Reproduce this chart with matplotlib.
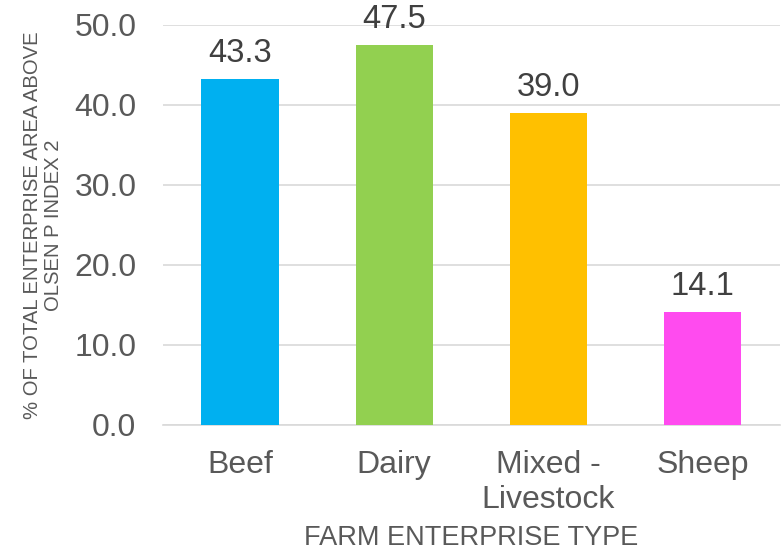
import matplotlib.pyplot as plt
from matplotlib.ticker import FormatStrFormatter

# data
categories = ['Beef', 'Dairy', 'Mixed -\nLivestock', 'Sheep']
values = [43.3, 47.5, 39.0, 14.1]
colors = ['#00B0F0', '#92D050', '#FFC000', '#FF4BEF']

plt.rcParams['font.family'] = ['Liberation Sans', 'DejaVu Sans']

fig = plt.figure(figsize=(7.83, 5.53), dpi=100)
ax = fig.add_axes([0.208, 0.2315, 0.788, 0.7233])

bars = ax.bar(range(len(values)), values, width=0.5, color=colors, zorder=3)
for b, v in zip(bars, values):
    ax.annotate(f'{v:.1f}', (b.get_x() + b.get_width() / 2, v),
                xytext=(0, 7), textcoords='offset points',
                ha='center', va='bottom', fontsize=23.5, color='#404040',
                annotation_clip=False)

ax.set_xlim(-0.5, 3.5)
ax.set_ylim(0, 50)
ax.set_yticks([0, 10, 20, 30, 40, 50])
ax.yaxis.set_major_formatter(FormatStrFormatter('%.1f'))
ax.set_xticks(range(len(categories)))
ax.set_xticklabels(categories, linespacing=1.2)

ax.grid(axis='y', color='#d9d9d9', linewidth=1.2, zorder=0)
for s in ['top', 'right', 'left']:
    ax.spines[s].set_visible(False)
ax.spines['bottom'].set_color('#d9d9d9')
ax.spines['bottom'].set_linewidth(1.2)
ax.tick_params(axis='both', length=0, labelsize=23, colors='#595959')
ax.tick_params(axis='y', pad=19)
ax.tick_params(axis='x', pad=18)

ax.set_xlabel('FARM ENTERPRISE TYPE', fontsize=19.5, color='#595959', va='center')
ax.xaxis.set_label_coords(0.5, -0.283)
ax.set_ylabel('% OF TOTAL ENTERPRISE AREA ABOVE\nOLSEN P INDEX 2', fontsize=14.6,
              color='#595959', va='center', linespacing=1.1)
ax.yaxis.set_label_coords(-0.1945, 0.5)

fig.savefig('out.png', dpi=100)
